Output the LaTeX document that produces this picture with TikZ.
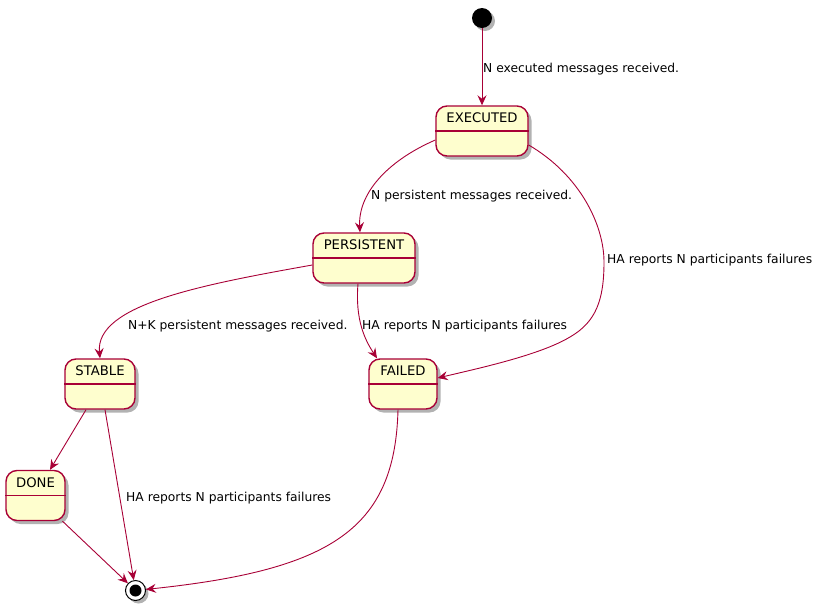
\documentclass[tikz,border=0pt]{standalone}
\usepackage{fontspec}
\setmainfont{DejaVu Sans}
\usetikzlibrary{arrows.meta,shadows}
\definecolor{plborder}{HTML}{A80036}
\definecolor{plfill}{HTML}{FEFECE}
\begin{document}
\begin{tikzpicture}[x=1pt,y=-1pt,
  statebox/.style={draw=plborder, fill=plfill, line width=1.4pt, rounded corners=11pt,
    inner sep=0pt, minimum height=50pt,
    drop shadow={shadow xshift=3.5pt, shadow yshift=-3.5pt, opacity=0.3, fill=black}},
  statename/.style={font=\fontsize{13.2}{15}\selectfont, inner sep=0pt, anchor=center},
  lbl/.style={font=\fontsize{12.3}{14}\selectfont, inner sep=0pt, anchor=base west},
  arr/.style={draw=plborder, line width=0.9pt, -{Stealth[length=10pt,width=9pt,inset=3.5pt]}},
  sep/.style={draw=plborder, line width=1.2pt}
]
\useasboundingbox (0,0) rectangle (828,611);

% start / end
\node[circle, fill=black, minimum size=20pt, inner sep=0pt,
  drop shadow={shadow xshift=3pt, shadow yshift=-3pt, opacity=0.3, fill=black}] (start) at (482,18) {};
\node[circle, draw=black, fill=white, line width=1pt, minimum size=20pt, inner sep=0pt,
  drop shadow={shadow xshift=3pt, shadow yshift=-3pt, opacity=0.3, fill=black}] (end) at (135.5,590.5) {};
\fill[black] (end.center) circle[radius=6pt];

% states
\node[statebox, minimum width=92pt, label={[statename, yshift=-12.5pt]north:EXECUTED}] (executed) at (482,131) {};
\node[statebox, minimum width=102pt, label={[statename, yshift=-12.5pt]north:PERSISTENT}] (persistent) at (364,258) {};
\node[statebox, minimum width=70pt, label={[statename, yshift=-12.5pt]north:STABLE}] (stable) at (100,384) {};
\node[statebox, minimum width=68pt, label={[statename, yshift=-12.5pt]north:FAILED}] (failed) at (403,384) {};
\node[statebox, minimum width=59pt, label={[statename, yshift=-12.5pt]north:DONE}] (done) at (35.5,495.5) {};

\foreach \s in {executed,persistent,stable,failed,done}
  \draw[sep] (\s.west) -- (\s.east);

% transitions
\draw[arr] (start) -- (executed.north);
\draw[arr] ([yshift=-9pt]executed.west) .. controls (385,162) and (358,195) .. ([xshift=-4pt]persistent.north);
\draw[arr] ([yshift=-14pt]executed.east) .. controls (580,175) and (604,225) .. (604,262)
  .. controls (604,300) and (596,322) .. (570,337) .. controls (540,355) and (480,368) .. ([yshift=6pt]failed.east);
\draw[arr] ([yshift=-7pt]persistent.west) .. controls (200,285) and (95,305) .. (stable.north);
\draw[arr] ([xshift=-6pt]persistent.south) .. controls (355,320) and (365,340) .. ([xshift=-26pt]failed.north);
\draw[arr] ([xshift=-14pt]stable.south) -- ([xshift=14.5pt]done.north);
\draw[arr] ([xshift=5pt]stable.south) -- (end);
\draw[arr] ([xshift=27pt]done.south) -- (end);
\draw[arr] ([xshift=-5pt]failed.south) .. controls (395,530) and (330,570) .. (end);

% labels
\node[lbl] (l1) at (483,72.5) {N executed messages received.};
\node[lbl] (l2) at (371,199) {N persistent messages received.};
\node[lbl] (l3) at (607,263) {HA reports N participants failures};
\node[lbl] (l4) at (128,329) {N+K persistent messages received.};
\node[lbl] (l5) at (362,329) {HA reports N participants failures};
\node[lbl] (l6) at (126,501) {HA reports N participants failures};
\end{tikzpicture}
\end{document}
